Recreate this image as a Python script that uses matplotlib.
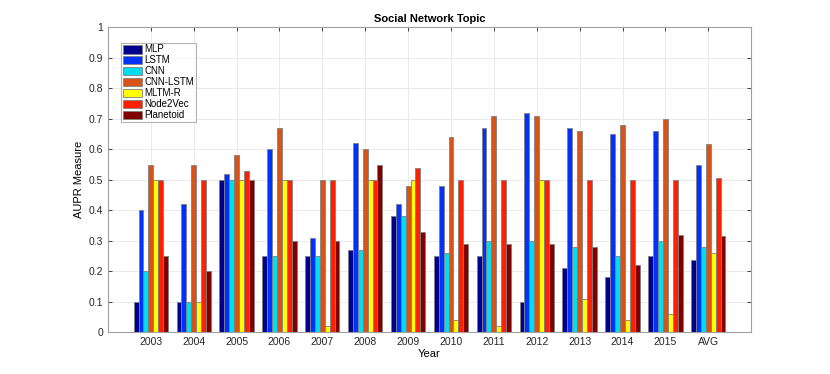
import numpy as np
import matplotlib.pyplot as plt

plt.rcParams['font.family'] = ['Liberation Sans', 'DejaVu Sans']

years = ["2003", "2004", "2005", "2006", "2007", "2008", "2009",
         "2010", "2011", "2012", "2013", "2014", "2015", "AVG"]
models = ["MLP", "LSTM", "CNN", "CNN-LSTM", "MLTM-R", "Node2Vec", "Planetoid"]

mlp = [0.10, 0.10, 0.50, 0.25, 0.25, 0.27, 0.38, 0.25, 0.25, 0.10, 0.21, 0.18, 0.25, 0.237]
lstm = [0.40, 0.42, 0.52, 0.60, 0.31, 0.62, 0.42, 0.48, 0.67, 0.72, 0.67, 0.65, 0.66, 0.55]
cnn = [0.20, 0.10, 0.50, 0.25, 0.25, 0.27, 0.38, 0.26, 0.30, 0.30, 0.28, 0.25, 0.30, 0.28]
cnn_lstm = [0.55, 0.55, 0.58, 0.67, 0.50, 0.60, 0.48, 0.64, 0.71, 0.71, 0.66, 0.68, 0.70, 0.617]
mltm_r = [0.50, 0.10, 0.50, 0.50, 0.02, 0.50, 0.50, 0.04, 0.02, 0.50, 0.11, 0.04, 0.06, 0.26]
node2vec = [0.50, 0.50, 0.53, 0.50, 0.50, 0.50, 0.54, 0.50, 0.50, 0.50, 0.50, 0.50, 0.50, 0.505]
planetoid = [0.25, 0.20, 0.50, 0.30, 0.30, 0.55, 0.33, 0.29, 0.29, 0.29, 0.28, 0.22, 0.32, 0.317]

series = [mlp, lstm, cnn, cnn_lstm, mltm_r, node2vec, planetoid]
colors = ["#00008f", "#0032ff", "#00dcf0", "#d95319", "#ffff00", "#ff2000", "#800000"]

fig = plt.figure(figsize=(8.3, 3.74), dpi=100)
ax = fig.add_axes([0.130, 0.1115, 0.775, 0.8155])

x = np.arange(1, len(years) + 1)
group = 0.8
w = group / len(series)
for i, (vals, c, name) in enumerate(zip(series, colors, models)):
    offs = -group / 2 + w * (i + 0.5)
    ax.bar(x + offs, vals, width=w, color=c, edgecolor="#808080",
           linewidth=0.6, label=name, zorder=3)

ax.set_xlim(0, 15)
ax.set_ylim(0, 1)
ax.set_xticks(x)
ax.set_xticklabels(years)
ax.set_yticks(np.arange(0, 1.01, 0.1))
ax.set_yticklabels(["0"] + ["%.1f" % v for v in np.arange(0.1, 0.95, 0.1)] + ["1"])
ax.tick_params(direction="in", length=3, labelsize=7.5, colors="#262626",
               top=True, right=True, width=0.6)
ax.grid(True, color="#e6e6e6", linewidth=0.6, zorder=0)
for s in ax.spines.values():
    s.set_color("#a0a0a0")
    s.set_linewidth(0.8)

ax.set_title("Social Network Topic", fontsize=8, fontweight="bold", pad=4)
ax.set_xlabel("Year", fontsize=8, labelpad=1)
ax.set_ylabel("AUPR Measure", fontsize=8, labelpad=3)

leg = ax.legend(loc="upper left", bbox_to_anchor=(0.02, 0.95), fontsize=7,
                frameon=True, fancybox=False, borderpad=0.2, labelspacing=0.1,
                handlelength=2.0, handleheight=1.0, handletextpad=0.2,
                borderaxespad=0)
leg.get_frame().set_edgecolor("#a0a0a0")
leg.get_frame().set_linewidth(0.8)

fig.savefig("out.png", dpi=100)
